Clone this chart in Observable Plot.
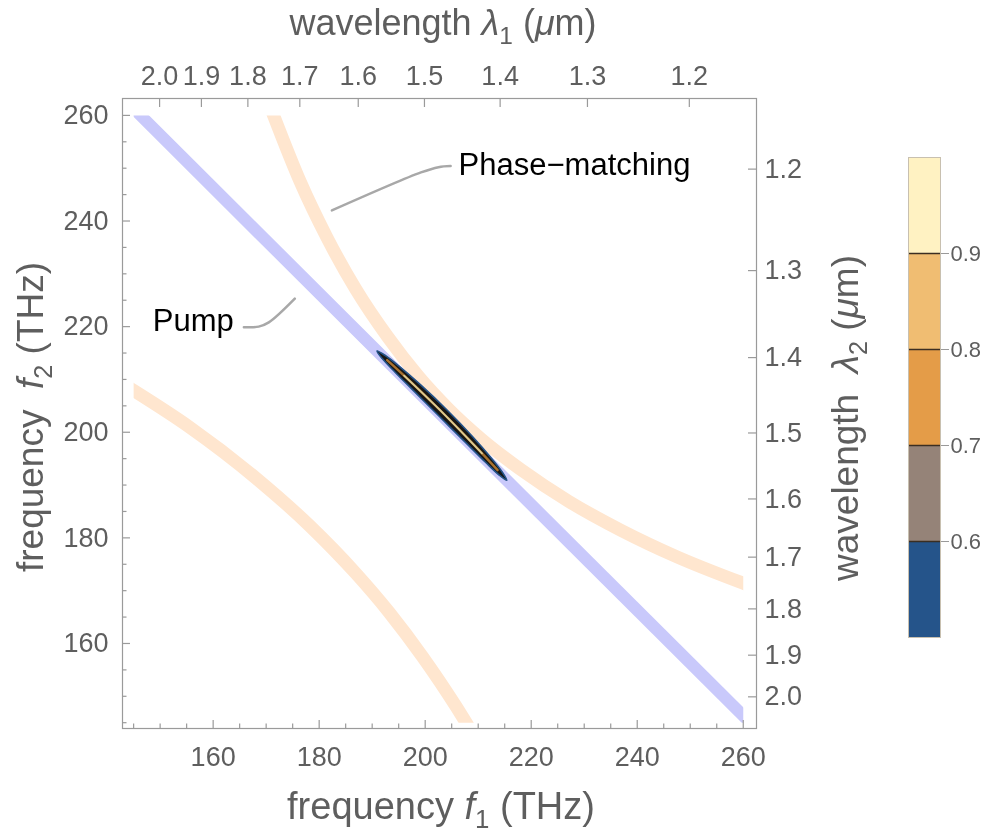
<!DOCTYPE html>
<html><head><meta charset="utf-8">
<script src="https://cdn.jsdelivr.net/npm/d3@7"></script>
<script src="https://cdn.jsdelivr.net/npm/@observablehq/plot@0.6"></script>
<style>
body{margin:0;background:#fff;}
#wrap{position:relative;width:995px;height:835px;overflow:hidden;}
#wrap svg{position:absolute;}
</style></head><body><div id="wrap"></div>
<script>
const FONT = '"Liberation Sans", Arial, sans-serif';
const TXT = "#5e5e5e", FRAME = "#9a9a9a";
const C_LIGHT = 299.792458; // µm·THz, λ = c / f

// ---- axis ticks ----
const fMajor = [160, 180, 200, 220, 240, 260];
const fMinor = [145, 150, 155, 165, 170, 175, 185, 190, 195, 205, 210, 215, 225, 230, 235, 245, 250, 255];
const lambda1Ticks = [2.0, 1.9, 1.8, 1.7, 1.6, 1.5, 1.4, 1.3, 1.2];
const lambda2Ticks = [1.2, 1.3, 1.4, 1.5, 1.6, 1.7, 1.8, 1.9, 2.0];

// ---- pump line (f1 + f2 = const) ----
const pumpF1 = [146.3, 260.0];
const pumpF2 = [260.0, 146.3];

// ---- phase-matching curves ----
const pmUpperF1 = [171.4, 176.4, 181.4, 186.9, 192.9, 198.7, 204.4, 210.6, 218.1, 227.1, 237.0, 247.5, 260.0];
const pmUpperF2 = [260.0, 247.5, 237.0, 227.1, 218.1, 210.6, 204.4, 198.7, 192.9, 186.9, 181.4, 176.4, 171.4];
const pmLowerF1 = [145.0, 155.5, 168.1, 178.2, 186.9, 193.2, 199.5, 205.8, 207.9];
const pmLowerF2 = [207.9, 201.0, 191.3, 182.3, 173.3, 165.9, 157.5, 148.1, 144.7];

// ---- joint spectrum: outline of the outer contour and its ridge ----
const blobF1 = [190.9, 192.48, 195.23, 199.15, 204.17, 208.96, 212.38, 214.53, 215.4, 213.95, 211.42, 207.74, 202.83, 197.93, 194.27, 191.90];
const blobF2 = [215.4, 214.53, 212.38, 208.96, 204.17, 199.15, 195.23, 192.48, 190.9, 191.90, 194.27, 197.93, 202.83, 207.74, 211.42, 213.95];
const innerF1 = [192.83, 197.29, 203.5, 209.54, 213.66];
const innerF2 = [213.66, 209.54, 203.5, 197.29, 192.83];
const coreF1  = [196.02, 203.5, 210.72];
const coreF2  = [210.72, 203.5, 196.02];

// ---- annotations ----
const pmLeaderF1 = [182.4, 199.2, 202.5, 204.8];
const pmLeaderF2 = [242.0, 249.2, 250.2, 250.4];
const pumpLeaderF1 = [165.8, 168.6, 170.5, 175.4];
const pumpLeaderF2 = [219.9, 220.0, 220.8, 225.3];
const pmLabel = [{f1: 206.3, f2: 250.5, text: "Phase\u2212matching"}];
const pumpLabel = [{f1: 163.9, f2: 221.0, text: "Pump"}];

// ---- colour bar ----
const levels = [0.5, 0.6, 0.7, 0.8, 0.9, 1.0];
const bandColors = ["#25548a", "#958378", "#e49c48", "#f0bd72", "#fff2c2"];
const legendTicks = [0.6, 0.7, 0.8, 0.9];

const zip = (a, b) => a.map((v, i) => ({f1: v, f2: b[i]}));

const plot = Plot.plot({
  width: 995, height: 835,
  marginLeft: 122, marginRight: 239, marginTop: 98, marginBottom: 107,
  x: {domain: [142.9, 262.5], label: null},
  y: {domain: [143.9, 263.2], label: null},
  style: {fontFamily: FONT, background: "transparent", overflow: "visible"},
  marks: [
    Plot.line(zip(pmLowerF1, pmLowerF2), {x: "f1", y: "f2", stroke: "#ffe6cf", strokeWidth: 13, strokeLinecap: "square", curve: "monotone-x"}),
    Plot.line(zip(pmUpperF1, pmUpperF2), {x: "f1", y: "f2", stroke: "#ffe6cf", strokeWidth: 13, strokeLinecap: "square", curve: "monotone-x"}),
    Plot.line(zip(pumpF1, pumpF2), {x: "f1", y: "f2", stroke: "#c9c9fb", strokeWidth: 12, strokeLinecap: "square", mixBlendMode: "multiply"}),
    Plot.line(zip(blobF1, blobF2), {x: "f1", y: "f2", fill: "#161616", stroke: "#25548a", strokeWidth: 1.6, curve: "catmull-rom-closed"}),
    Plot.line(zip(innerF1, innerF2), {x: "f1", y: "f2", stroke: "#a8712f", strokeWidth: 2.4, strokeLinecap: "round", curve: "catmull-rom"}),
    Plot.line(zip(coreF1, coreF2), {x: "f1", y: "f2", stroke: "#dccb92", strokeWidth: 1.8, strokeLinecap: "round", curve: "catmull-rom"}),
    Plot.line(zip(pmLeaderF1, pmLeaderF2), {x: "f1", y: "f2", stroke: "#a8a8a8", strokeWidth: 2.5, curve: "catmull-rom"}),
    Plot.line(zip(pumpLeaderF1, pumpLeaderF2), {x: "f1", y: "f2", stroke: "#a8a8a8", strokeWidth: 2.5, curve: "catmull-rom"}),
    Plot.text(pmLabel, {x: "f1", y: "f2", text: "text", textAnchor: "start", fontSize: 31, fill: "#000", lineAnchor: "middle"}),
    Plot.text(pumpLabel, {x: "f1", y: "f2", text: "text", textAnchor: "end", fontSize: 31, fill: "#000", lineAnchor: "middle"}),
    Plot.frame({stroke: FRAME, strokeWidth: 1.2}),
    Plot.axisX(fMajor, {anchor: "bottom", tickSize: -8, tickPadding: 26, fontSize: 27, fill: TXT, stroke: FRAME, strokeWidth: 1.2, label: null}),
    Plot.axisX(fMinor, {anchor: "bottom", tickSize: -4.5, tickFormat: () => "", stroke: FRAME, strokeWidth: 1.2, label: null}),
    Plot.axisY(fMajor, {anchor: "left", tickSize: -8, tickPadding: 22, fontSize: 27, fill: TXT, stroke: FRAME, strokeWidth: 1.2, label: null}),
    Plot.axisY(fMinor, {anchor: "left", tickSize: -4.5, tickFormat: () => "", stroke: FRAME, strokeWidth: 1.2, label: null}),
    Plot.axisX(lambda1Ticks.map(l => C_LIGHT / l), {anchor: "top", tickSize: -8, tickPadding: 22, fontSize: 27, fill: TXT, stroke: FRAME, strokeWidth: 1.2, label: null, tickFormat: f => (C_LIGHT / f).toFixed(1)}),
    Plot.axisY(lambda2Ticks.map(l => C_LIGHT / l), {anchor: "right", tickSize: -9, tickPadding: 17, fontSize: 27, fill: TXT, stroke: FRAME, strokeWidth: 1.2, label: null, tickFormat: f => (C_LIGHT / f).toFixed(1)})
  ]
});
plot.style.left = "0px"; plot.style.top = "0px";
document.getElementById("wrap").appendChild(plot);

// clip the bands to the computed region [145, 260]²
const sx = plot.scale("x"), sy = plot.scale("y");
const svg = d3.select(plot);
svg.append("defs").append("clipPath").attr("id", "region").append("rect")
  .attr("x", sx.apply(145)).attr("y", sy.apply(260))
  .attr("width", sx.apply(260) - sx.apply(145)).attr("height", sy.apply(145) - sy.apply(260));
svg.selectAll('g[aria-label="line"]').attr("clip-path", "url(#region)");

function richText(node, {x, y, rotate = 0, size, parts}) {
  const t = d3.select(node).append("text")
    .attr("transform", `translate(${x},${y}) rotate(${rotate})`)
    .attr("text-anchor", "middle").attr("font-size", size)
    .attr("fill", TXT).attr("font-family", FONT);
  let shift = 0;
  for (const p of parts) {
    const s = t.append("tspan").text(p.t);
    if (p.i) s.attr("font-style", "italic");
    const target = p.sub ? size * 0.24 : 0;
    if (target !== shift) { s.attr("dy", target - shift); shift = target; }
    if (p.sub) s.attr("font-size", size * 0.68);
  }
}
const TS = 37;
richText(plot, {x: 443, y: 35, size: TS - 1, parts: [{t: "wavelength "}, {t: "\u03bb", i: 1}, {t: "1", sub: 1}, {t: " ("}, {t: "\u03bc", i: 1}, {t: "m)"}]});
richText(plot, {x: 441, y: 819, size: TS + 1, parts: [{t: "frequency "}, {t: "f", i: 1}, {t: "1", sub: 1}, {t: " (THz)"}]});
richText(plot, {x: 43, y: 417, rotate: -90, size: TS, parts: [{t: "frequency\u00a0 "}, {t: "f", i: 1}, {t: "2", sub: 1}, {t: " (THz)"}]});
richText(plot, {x: 858, y: 418, rotate: -90, size: TS, parts: [{t: "wavelength\u00a0 "}, {t: "\u03bb", i: 1}, {t: "2", sub: 1}, {t: " ("}, {t: "\u03bc", i: 1}, {t: "m)"}]});

// ---- colour bar legend ----
const bands = bandColors.map((c, i) => ({y1: levels[i], y2: levels[i + 1], c}));
const legend = Plot.plot({
  width: 88, height: 500,
  marginLeft: 1, marginRight: 55, marginTop: 10, marginBottom: 10,
  x: {domain: [0, 1], axis: null},
  y: {domain: [0.5, 1.0], axis: null},
  style: {fontFamily: FONT, background: "transparent", overflow: "visible"},
  marks: [
    Plot.rect(bands, {x1: 0, x2: 1, y1: "y1", y2: "y2", fill: "c"}),
    Plot.ruleY(legendTicks, {x1: 0, x2: 1, stroke: "#3b2e22", strokeWidth: 1.5}),
    Plot.frame({stroke: "#c8c0b0", strokeWidth: 1}),
    Plot.axisY(legendTicks, {anchor: "right", tickSize: 8, tickPadding: 2, fontSize: 22, fill: TXT, stroke: FRAME, label: null, tickFormat: d => d.toFixed(1)})
  ]
});
legend.style.left = "907px"; legend.style.top = "147px";
document.getElementById("wrap").appendChild(legend);
</script></body></html>
